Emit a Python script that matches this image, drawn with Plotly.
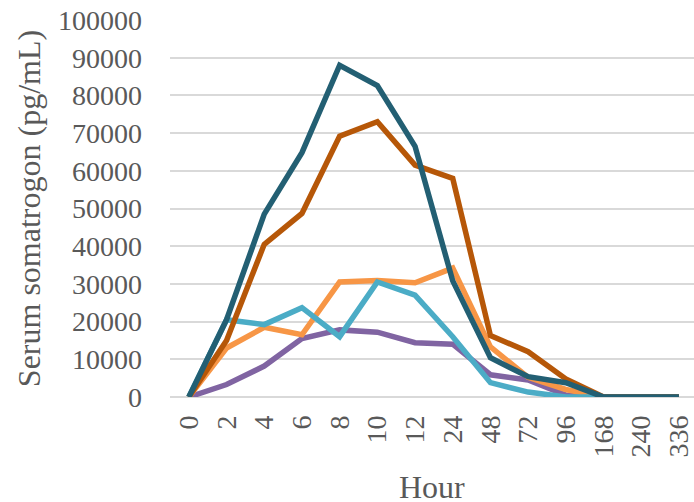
import plotly.graph_objects as go

hours = ["0", "2", "4", "6", "8", "10", "12", "24", "48", "72", "96", "168", "240", "336"]

purple_vals = [0, 3300, 8200, 15500, 17800, 17200, 14400, 14000, 5900, 4500, 500, 0, 0, 0]
light_orange_vals = [0, 13000, 18500, 16500, 30500, 30900, 30300, 34200, 13300, 5200, 2000, 0, 0, 0]
light_blue_vals = [0, 20500, 19200, 23700, 16000, 30500, 27000, 16000, 3800, 1300, 0, 0, 0, 0]
dark_orange_vals = [0, 15000, 40500, 48700, 69200, 73000, 61500, 58000, 16300, 12000, 4800, 0, 0, 0]
teal_vals = [0, 20500, 48500, 64800, 88000, 82600, 66500, 30800, 10400, 5400, 3800, 0, 0, 0]

series = [
    ("Series 5", purple_vals, "#8064A2"),
    ("Series 3", light_orange_vals, "#F79646"),
    ("Series 4", light_blue_vals, "#4BACC6"),
    ("Series 2", dark_orange_vals, "#B65708"),
    ("Series 1", teal_vals, "#235F73"),
]

y_ticks = list(range(0, 100001, 10000))

font_family = "Liberation Serif, Times New Roman, serif"
grey = "#595959"

fig = go.Figure()
for name, vals, color in series:
    fig.add_trace(go.Scatter(
        x=hours, y=vals, mode="lines", name=name,
        line=dict(color=color, width=5.5),
    ))

fig.update_layout(
    width=694, height=502,
    margin=dict(l=170, r=0, t=20, b=105),
    paper_bgcolor="white", plot_bgcolor="white",
    showlegend=False,
    font=dict(family=font_family, color=grey),
)

fig.update_xaxes(
    type="category",
    categoryorder="array", categoryarray=hours,
    range=[-0.5, 13.4],
    tickangle=-90,
    tickfont=dict(size=28, color=grey, family=font_family),
    showgrid=False, showline=False, zeroline=False,
    ticks="", ticklabelstandoff=12, ticklabeloverflow="allow",
    automargin=False,
)

fig.add_annotation(
    text="Hour", xref="paper", yref="paper", x=0.5, y=-0.24,
    xanchor="center", yanchor="middle", showarrow=False,
    font=dict(size=32, color=grey, family=font_family),
)

fig.update_yaxes(
    range=[0, 100000],
    tickvals=y_ticks,
    ticktext=[str(v) for v in y_ticks],
    tickfont=dict(size=28, color=grey, family=font_family),
    showgrid=True, gridcolor="#D9D9D9", gridwidth=1.5,
    zeroline=True, zerolinecolor="#D9D9D9", zerolinewidth=1.5,
    showline=False, ticks="", ticklabelstandoff=27, ticklabeloverflow="allow",
    title=dict(text="Serum somatrogon (pg/mL)", font=dict(size=32, color=grey, family=font_family), standoff=7),
    automargin=False,
)

fig.write_html(
    "out.html",
    config={"displayModeBar": False},
    post_script="document.body.style.margin='0';document.body.style.overflow='hidden';",
)
